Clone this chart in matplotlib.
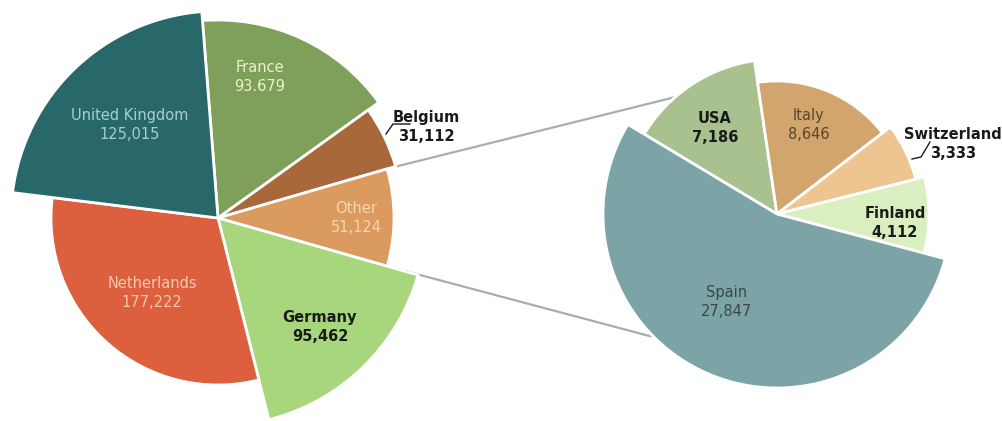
import numpy as np
import matplotlib
matplotlib.use("Agg")
import matplotlib.pyplot as plt

# main pie
main_names = ["France", "Belgium", "Other", "Germany", "Netherlands", "United Kingdom"]
main_values = [93679, 31112, 51124, 95462, 177222, 125015]
main_labels = ["93.679", "31,112", "51,124", "95,462", "177,222", "125,015"]

# breakdown of "Other"
other_names = ["USA", "Italy", "Switzerland", "Finland", "Spain"]
other_values = [7186, 8646, 3333, 4112, 27847]
other_labels = ["7,186", "8,646", "3,333", "4,112", "27,847"]

# styles
main_colors = ["#7fa05a", "#a8683a", "#dc9b5e", "#a8d67c", "#dc603e", "#28686a"]
main_radii = [198, 185, 176, 208, 167, 207]
other_colors = ["#a9c18e", "#d3a56e", "#eec590", "#d9efbf", "#7ca4a7"]
other_radii = [155, 133, 143, 152, 174]

W, H = 1003, 421
fig = plt.figure(figsize=(W / 100, H / 100), dpi=100)
ax = fig.add_axes([0, 0, 1, 1])

c1 = (218, H - 218)
c2 = (777, H - 214)

w1, _ = ax.pie(main_values, colors=main_colors, startangle=94.5, counterclock=False,
               center=c1, radius=1, wedgeprops=dict(edgecolor="white", linewidth=2))
for w, r in zip(w1, main_radii):
    w.set_radius(r)
    w.set_zorder(3)

w2, _ = ax.pie(other_values, colors=other_colors, startangle=149, counterclock=False,
               center=c2, radius=1, wedgeprops=dict(edgecolor="white", linewidth=2))
for w, r in zip(w2, other_radii):
    w.set_radius(r)
    w.set_zorder(3)

# connector lines from "Other" slice to the second pie
ow = w1[main_names.index("Other")]
orad = main_radii[main_names.index("Other")]
for th_a, th_b, rb in [(ow.theta2, 127, 150), (ow.theta1, 224, 176)]:
    xa = c1[0] + (orad + 4) * np.cos(np.radians(th_a))
    ya = c1[1] + (orad + 4) * np.sin(np.radians(th_a))
    xb = c2[0] + rb * np.cos(np.radians(th_b))
    yb = c2[1] + rb * np.sin(np.radians(th_b))
    ax.plot([xa, xb], [ya, yb], color="#a9adb2", lw=1.6, zorder=1)

# labels
main_pos = [(260, 77), (426, 127), (356, 218), (320, 327), (152, 293), (130, 125)]
main_tc = ["#eef0d0", "#1a1a1a", "#f5d6ae", "#1a1a1a", "#f7c8b2", "#a6ced6"]
main_bold = [False, True, False, True, False, False]
for n, v, p, tc, b in zip(main_names, main_labels, main_pos, main_tc, main_bold):
    ax.text(p[0], H - p[1], n + "\n" + v, ha="center", va="center", color=tc,
            fontsize=10.5, fontweight="bold" if b else "normal", linespacing=1.35, zorder=5)

other_pos = [(715, 128), (809, 125), (953, 144), (895, 223), (727, 302)]
other_tc = ["#1a1a1a", "#5a4528", "#1a1a1a", "#1a1a1a", "#3a4848"]
other_bold = [True, False, True, True, False]
for n, v, p, tc, b in zip(other_names, other_labels, other_pos, other_tc, other_bold):
    ax.text(p[0], H - p[1], n + "\n" + v, ha="center", va="center", color=tc,
            fontsize=10.5, fontweight="bold" if b else "normal", linespacing=1.35, zorder=5)

# small leader lines
ax.plot([386, 393, 410], [H - 134, H - 124, H - 124], color="#1a1a1a", lw=1, zorder=5)
ax.plot([912, 921, 930], [H - 159, H - 157, H - 142], color="#1a1a1a", lw=1, zorder=5)

ax.set_xlim(0, W)
ax.set_ylim(0, H)
ax.set_aspect("equal")
ax.axis("off")

fig.savefig("out.png", dpi=100, facecolor="white")
